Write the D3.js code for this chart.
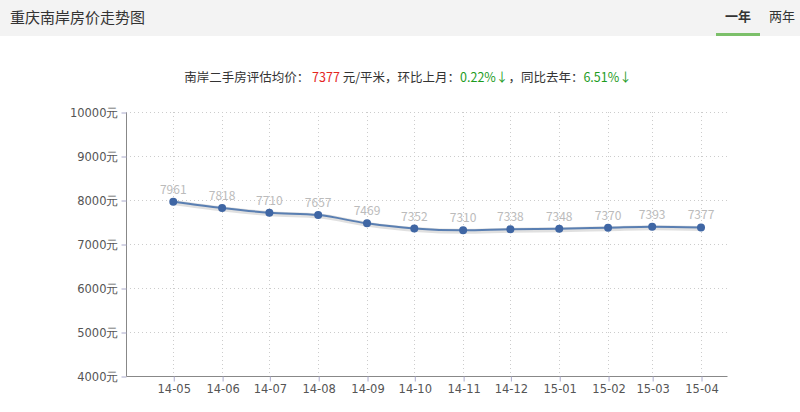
<!DOCTYPE html>
<html><head><meta charset="utf-8">
<script src="https://cdn.jsdelivr.net/npm/d3@7"></script>
<style>
body{margin:0;background:#fff;font-family:"Noto Sans CJK SC","Noto Sans",sans-serif;}
svg{display:block;}
</style></head><body>
<svg id="c" width="800" height="412"></svg>
<script>
const months = ["2014-05","2014-06","2014-07","2014-08","2014-09","2014-10","2014-11","2014-12","2015-01","2015-02","2015-03","2015-04"];
const tickLabels = ["14-05","14-06","14-07","14-08","14-09","14-10","14-11","14-12","15-01","15-02","15-03","15-04"];
const prices = [7961,7818,7710,7657,7469,7352,7310,7338,7348,7370,7393,7377];
const yTicks = [4000,5000,6000,7000,8000,9000,10000];

const svg = d3.select("#c");
const parse = d3.timeParse("%Y-%m");
const dates = months.map(parse);

// header
svg.append("rect").attr("x",0).attr("y",0).attr("width",800).attr("height",36).attr("fill","#f3f3f3");
svg.append("text").attr("x",10).attr("y",23).attr("font-size",15).attr("fill","#333").text("重庆南岸房价走势图");
svg.append("text").attr("x",738).attr("y",21).attr("text-anchor","middle").attr("font-size",13).attr("font-weight","bold").attr("fill","#333").text("一年");
svg.append("text").attr("x",782).attr("y",21).attr("text-anchor","middle").attr("font-size",13).attr("fill","#333").text("两年");
svg.append("rect").attr("x",716).attr("y",33).attr("width",44).attr("height",3).attr("fill","#7cc06a");

// subtitle
const sub = svg.append("text").attr("x",408).attr("y",82).attr("text-anchor","middle").attr("font-size",12.5).attr("fill","#333");
sub.append("tspan").text("南岸二手房评估均价： ");
sub.append("tspan").attr("fill","#e4261e").text("7377");
sub.append("tspan").text(" 元/平米，环比上月：");
sub.append("tspan").attr("fill","#1e9c1e").text("0.22%↓");
sub.append("tspan").text("，同比去年：");
sub.append("tspan").attr("fill","#1e9c1e").text("6.51%↓");

const x0 = 126, x1 = 727, yTop = 112, yBot = 376;
const x = d3.scaleTime().domain([new Date(2014,3,1), new Date(2015,3,17,12)]).range([x0,x1]);
const y = d3.scaleLinear().domain([4000,10000]).range([yBot,yTop]);

const g = svg.append("g");
// horizontal grid
g.selectAll("line.hg").data(yTicks.slice(1)).join("line")
 .attr("x1",x0).attr("x2",x1).attr("y1",d=>y(d)+0.5).attr("y2",d=>y(d)+0.5)
 .attr("stroke","#ccc").attr("stroke-dasharray","1,3");
// vertical grid
g.selectAll("line.vg").data(dates).join("line")
 .attr("x1",d=>Math.round(x(d))+0.5).attr("x2",d=>Math.round(x(d))+0.5).attr("y1",yTop).attr("y2",yBot)
 .attr("stroke","#ccc").attr("stroke-dasharray","1,3");

// y axis
const yAxis = d3.axisLeft(y).tickValues(yTicks).tickSize(5).tickPadding(3).tickFormat(d=>d+"元");
const ya = svg.append("g").attr("transform",`translate(${x0+0.5},0.5)`).call(yAxis);
ya.select(".domain").attr("stroke","#888").attr("d",`M0,${yTop}V${yBot}`);
ya.selectAll(".tick line").attr("stroke","#aac");
ya.selectAll("text").attr("fill","#555").attr("font-family","'DejaVu Sans',sans-serif").style("font-size","11.5px");

// x axis
const xAxis = d3.axisBottom(x).tickValues(dates).tickSize(5).tickPadding(3).tickFormat((d,i)=>tickLabels[i]);
const xa = svg.append("g").attr("transform",`translate(0.5,${yBot+0.5})`).call(xAxis);
xa.select(".domain").attr("stroke","#888").attr("d",`M${x0},0H${x1}`);
xa.selectAll(".tick line").attr("stroke","#aac");
xa.selectAll("text").attr("fill","#555").attr("font-family","'DejaVu Sans',sans-serif").style("font-size","11.5px");

// line with shadow
const line = d3.line().x((d,i)=>x(dates[i])).y(d=>y(d)).curve(d3.curveMonotoneX);
svg.append("path").datum(prices).attr("d",line).attr("fill","none")
 .attr("stroke","rgba(0,0,0,0.12)").attr("stroke-width",5).attr("transform","translate(1,1)");
svg.append("path").datum(prices).attr("d",line).attr("fill","none")
 .attr("stroke","#5a7fb2").attr("stroke-width",2);
svg.selectAll("circle.pt").data(prices).join("circle")
 .attr("cx",(d,i)=>x(dates[i])).attr("cy",d=>y(d)).attr("r",4).attr("fill","#3f66a4");
svg.selectAll("text.lbl").data(prices).join("text")
 .attr("x",(d,i)=>x(dates[i])).attr("y",d=>y(d)-8).attr("text-anchor","middle")
 .attr("font-size",12).attr("fill","#bbb").text(d=>d);
</script>
</body></html>
